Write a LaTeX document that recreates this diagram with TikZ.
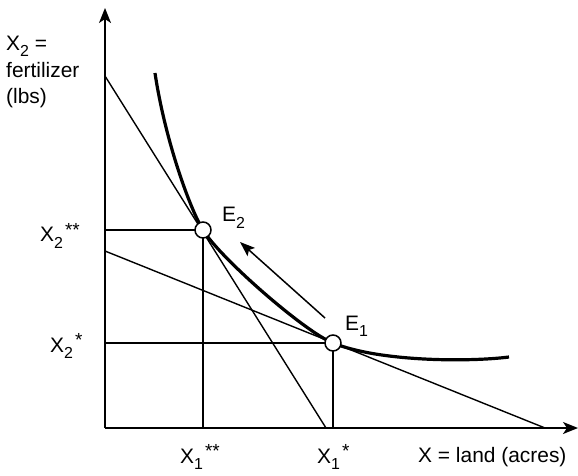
\documentclass[tikz,border=0pt]{standalone}
\usepackage{fontspec}
\setmainfont{Liberation Sans}
\usetikzlibrary{arrows.meta}
\newcommand\mysb[1]{\raisebox{-0.3em}{\fontsize{16}{16}\selectfont #1}}
\newcommand\mysp[1]{\hspace{2bp}\raisebox{0.28em}{\fontsize{19}{19}\selectfont #1}}
\begin{document}
\begin{tikzpicture}[x=1bp,y=-1bp,
  lbl/.style={anchor=base west,inner sep=0pt,font=\fontsize{21}{27}\selectfont},
  axis/.style={line width=1.7bp,-{Stealth[length=15bp,width=12bp,inset=4bp]}},
  thin/.style={line width=1.4bp},
  curve/.style={line width=3.2bp},
  pt/.style={circle,draw,fill=white,line width=1.5bp,minimum size=16bp,inner sep=0pt},
  mv/.style={line width=1.5bp,-{Stealth[length=15bp,width=11bp,inset=3bp]}}]
\useasboundingbox (0,0) rectangle (578,476);
% coordinates
\coordinate (O) at (105,428);
\coordinate (ytop) at (105,8);
\coordinate (xend) at (578,428);
\coordinate (sa) at (105,76);
\coordinate (sb) at (326,428);
\coordinate (ha) at (105,251);
\coordinate (hb) at (545,428);
\coordinate (y2) at (105,230);
\coordinate (x2) at (203,428);
\coordinate (y1) at (105,343);
\coordinate (x1) at (333,428);
\coordinate (cs) at (155,73);
\coordinate (ce) at (509,357);
\coordinate (at) at (325,318);
\coordinate (ah) at (240,242);
% lines
\draw[thin] (sa) -- (sb);
\draw[thin] (ha) -- (hb);
\draw[thin] (y2) -- (203,230) -- (x2);
\draw[thin] (y1) -- (333,343) -- (x1);
\draw[curve] (cs) .. controls (165,140) and (190,209) .. (203,230)
  .. controls (220,258) and (305,332) .. (333,343)
  .. controls (380,362) and (470,362) .. (ce);
\draw[axis] (O) -- (ytop);
\draw[axis] (O) -- (xend);
\draw[mv] (at) -- (ah);
\node[pt] (E2) at (203,230) {};
\node[pt] (E1) at (333,343) {};
% labels
\node[lbl,align=left] (ylab) at (6,104) {X\mysb{2} =\\fertilizer\\(lbs)};
\node[lbl] (xlab) at (418,462) {X = land (acres)};
\node[lbl] (lx2ss) at (40,242) {X\mysb{2}\mysp{**}};
\node[lbl] (lx2s) at (50,352) {X\mysb{2}\mysp{*}};
\node[lbl] (lx1ss) at (180,463) {X\mysb{1}\mysp{**}};
\node[lbl] (lx1s) at (317,463) {X\mysb{1}\mysp{*}};
\node[lbl] (le2) at (222,222) {E\mysb{2}};
\node[lbl] (le1) at (345,330) {E\mysb{1}};
\end{tikzpicture}
\end{document}
